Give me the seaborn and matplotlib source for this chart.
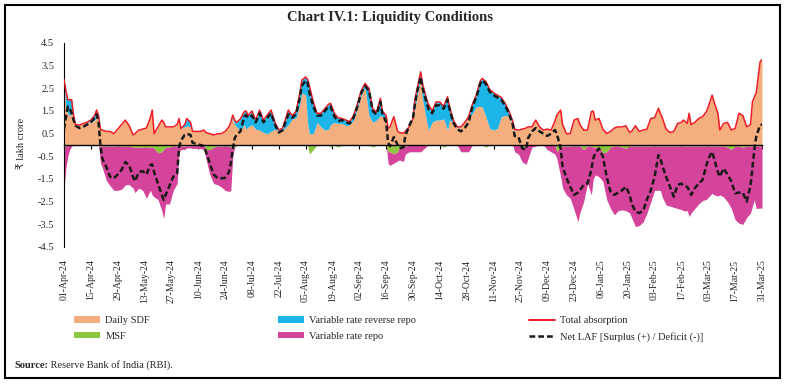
import numpy as np
import pandas as pd
import matplotlib
matplotlib.use("Agg")
import matplotlib.pyplot as plt
import seaborn as sns
from matplotlib.patches import Rectangle, Patch
from matplotlib.lines import Line2D

# ---------------- data (₹ lakh crore), day = days since 01-Apr-2024 ----------------
day = [0, 1, 2, 3, 4, 5, 6, 8, 10, 12,
       14, 16, 17, 18, 19, 20, 22, 24, 26, 28,
       30, 32, 34, 36, 37, 39, 41, 43, 45, 46,
       47, 49, 51, 52, 53, 55, 57, 59, 60, 61,
       63, 64, 66, 67, 69, 71, 73, 74, 76, 78,
       80, 82, 84, 86, 87, 88, 89, 90, 92, 94,
       95, 96, 98, 100, 102, 104, 106, 108, 110, 112,
       114, 117, 119, 121, 123, 124, 126, 127, 128, 130,
       132, 134, 136, 138, 139, 141, 143, 145, 147, 149,
       151, 153, 155, 157, 159, 161, 163, 165, 166, 168,
       169, 170, 172, 174, 175, 177, 178, 180, 182, 183,
       184, 186, 187, 189, 190, 192, 194, 196, 198, 200,
       201, 203, 205, 207, 209, 211, 213, 215, 217, 218,
       220, 222, 224, 226, 228, 230, 232, 234, 235, 237,
       239, 241, 242, 244, 246, 248, 250, 252, 254, 256,
       257, 259, 260, 262, 264, 266, 268, 269, 271, 273,
       275, 276, 277, 279, 281, 283, 285, 287, 289, 291,
       293, 295, 296, 298, 300, 302, 304, 306, 308, 310,
       311, 312, 314, 316, 318, 320, 322, 323, 325, 326,
       327, 329, 331, 333, 335, 336, 338, 339, 341, 342,
       344, 346, 348, 350, 352, 354, 356, 358, 359, 360,
       361, 363, 364]

daily_sdf = [2.90, 1.60, 1.40, 1.30, 1.40, 1.20, 0.90, 0.88, 0.95, 1.00,
             1.00, 1.10, 1.25, 1.10, 0.70, 0.66, 0.60, 0.60, 0.50, 0.70,
             0.90, 1.10, 0.85, 0.45, 0.50, 0.66, 0.70, 0.75, 1.20, 1.54,
             0.50, 0.80, 1.10, 1.00, 0.80, 0.80, 0.80, 0.90, 1.17, 0.73,
             0.80, 0.85, 0.80, 0.60, 0.60, 0.60, 0.66, 0.55, 0.50, 0.44,
             0.50, 0.50, 0.60, 0.80, 1.00, 1.20, 0.90, 0.80, 0.65, 0.90,
             0.70, 0.80, 0.90, 0.70, 0.66, 0.55, 0.50, 0.60, 0.70, 0.60,
             0.65, 0.90, 1.15, 1.20, 1.80, 2.30, 2.20, 1.00, 0.50, 0.50,
             1.00, 0.80, 0.66, 0.70, 0.90, 1.00, 0.95, 0.95, 0.85, 0.90,
             1.10, 1.60, 2.20, 2.55, 1.30, 1.00, 1.10, 1.30, 1.25, 1.25,
             0.73, 0.80, 1.25, 0.60, 0.55, 0.52, 0.60, 0.80, 1.17, 1.60,
             2.10, 3.00, 2.00, 1.10, 0.66, 1.00, 1.10, 1.10, 1.15, 0.66,
             1.10, 1.00, 0.75, 0.80, 1.00, 1.20, 1.40, 1.69, 1.70, 1.70,
             1.25, 0.73, 0.66, 0.73, 1.25, 1.30, 1.30, 0.90, 0.66, 0.66,
             0.70, 0.75, 0.80, 0.80, 1.10, 0.80, 0.66, 0.70, 0.66, 1.05,
             1.32, 1.54, 0.90, 0.50, 0.50, 1.10, 1.17, 0.90, 0.66, 0.66,
             1.47, 1.50, 1.10, 1.17, 0.70, 0.51, 0.60, 0.75, 0.80, 0.80,
             0.85, 0.55, 0.60, 0.85, 0.60, 0.66, 0.70, 1.17, 1.20, 1.62,
             1.40, 1.20, 0.70, 0.55, 0.60, 0.95, 1.00, 1.10, 0.95, 1.40,
             0.90, 1.00, 1.17, 1.25, 1.47, 1.69, 2.20, 1.90, 1.40, 0.66,
             0.95, 1.00, 0.66, 0.73, 1.40, 1.30, 0.80, 0.90, 1.90, 2.10,
             2.30, 3.67, 3.77]

vrrr = [0.00, 0.80, 0.60, 0.70, 0.60, 0.10, 0.00, 0.00, 0.00, 0.00,
        0.10, 0.20, 0.30, 0.20, 0.00, 0.00, 0.00, 0.00, 0.00, 0.00,
        0.00, 0.00, 0.00, 0.00, 0.00, 0.00, 0.00, 0.00, 0.00, 0.00,
        0.00, 0.00, 0.00, 0.00, 0.00, 0.00, 0.00, 0.00, 0.00, 0.00,
        0.10, 0.32, 0.20, 0.00, 0.00, 0.00, 0.00, 0.00, 0.00, 0.00,
        0.00, 0.00, 0.00, 0.00, 0.00, 0.12, 0.20, 0.20, 0.50, 0.57,
        0.80, 0.50, 0.60, 0.40, 0.88, 0.55, 0.82, 0.94, 0.30, 0.06,
        0.10, 0.64, 0.15, 0.27, 0.50, 0.56, 0.80, 1.90, 2.10, 1.40,
        0.40, 0.60, 0.94, 1.10, 0.94, 0.40, 0.25, 0.22, 0.25, 0.13,
        0.20, 0.20, 0.20, 0.17, 1.20, 0.60, 0.35, 0.76, 0.25, 0.05,
        0.00, 0.00, 0.00, 0.00, 0.00, 0.00, 0.00, 0.00, 0.00, 0.40,
        0.32, 0.23, 0.70, 0.96, 1.14, 0.50, 0.80, 0.80, 0.55, 1.47,
        0.60, 0.10, 0.05, 0.00, 0.00, 0.05, 0.40, 0.51, 1.10, 1.24,
        1.55, 1.72, 1.64, 1.47, 0.85, 0.54, 0.20, 0.15, 0.04, 0.00,
        0.00, 0.00, 0.00, 0.00, 0.00, 0.00, 0.00, 0.00, 0.00, 0.00,
        0.00, 0.00, 0.00, 0.00, 0.00, 0.00, 0.00, 0.00, 0.00, 0.00,
        0.00, 0.00, 0.00, 0.00, 0.00, 0.00, 0.00, 0.00, 0.00, 0.00,
        0.00, 0.00, 0.00, 0.00, 0.00, 0.00, 0.00, 0.00, 0.00, 0.00,
        0.00, 0.00, 0.00, 0.00, 0.00, 0.00, 0.00, 0.00, 0.00, 0.00,
        0.00, 0.00, 0.00, 0.00, 0.00, 0.00, 0.00, 0.00, 0.00, 0.00,
        0.00, 0.00, 0.00, 0.00, 0.00, 0.00, 0.00, 0.00, 0.00, 0.00,
        0.00, 0.00, 0.00]

msf = [0.10, 0.05, 0.00, 0.00, 0.00, 0.00, 0.00, 0.00, 0.00, 0.00,
       0.00, 0.00, 0.00, 0.00, 0.05, 0.05, 0.05, 0.05, 0.05, 0.05,
       0.05, 0.06, 0.05, 0.10, 0.10, 0.10, 0.10, 0.10, 0.10, 0.10,
       0.15, 0.35, 0.30, 0.20, 0.10, 0.10, 0.05, 0.05, 0.05, 0.05,
       0.05, 0.03, 0.03, 0.03, 0.03, 0.03, 0.03, 0.20, 0.20, 0.10,
       0.05, 0.05, 0.05, 0.05, 0.10, 0.20, 0.05, 0.02, 0.02, 0.02,
       0.00, 0.00, 0.00, 0.00, 0.00, 0.00, 0.00, 0.00, 0.00, 0.00,
       0.00, 0.00, 0.00, 0.00, 0.00, 0.00, 0.00, 0.00, 0.40, 0.20,
       0.00, 0.00, 0.00, 0.00, 0.10, 0.00, 0.10, 0.00, 0.00, 0.00,
       0.00, 0.00, 0.00, 0.00, 0.00, 0.10, 0.00, 0.00, 0.00, 0.00,
       0.30, 0.30, 0.40, 0.30, 0.10, 0.05, 0.05, 0.02, 0.02, 0.02,
       0.02, 0.02, 0.02, 0.02, 0.00, 0.00, 0.00, 0.00, 0.10, 0.00,
       0.00, 0.00, 0.00, 0.00, 0.00, 0.00, 0.00, 0.00, 0.00, 0.00,
       0.10, 0.00, 0.00, 0.00, 0.00, 0.00, 0.00, 0.00, 0.00, 0.00,
       0.10, 0.05, 0.00, 0.00, 0.00, 0.00, 0.00, 0.00, 0.00, 0.00,
       0.30, 0.10, 0.05, 0.05, 0.05, 0.05, 0.05, 0.05, 0.20, 0.05,
       0.05, 0.10, 0.10, 0.10, 0.35, 0.30, 0.10, 0.05, 0.05, 0.10,
       0.15, 0.05, 0.05, 0.05, 0.05, 0.05, 0.05, 0.05, 0.05, 0.05,
       0.05, 0.05, 0.05, 0.05, 0.05, 0.05, 0.05, 0.05, 0.05, 0.05,
       0.05, 0.05, 0.05, 0.05, 0.05, 0.05, 0.05, 0.05, 0.05, 0.05,
       0.05, 0.10, 0.20, 0.05, 0.05, 0.10, 0.05, 0.05, 0.05, 0.05,
       0.05, 0.05, 0.05]

vrr = [1.90, 0.95, 0.50, 0.20, 0.05, 0.00, 0.00, 0.00, 0.00, 0.00,
       0.00, 0.00, 0.00, 0.00, 0.75, 0.95, 1.50, 1.75, 1.95, 1.95,
       1.90, 1.70, 1.70, 1.80, 2.00, 1.80, 1.90, 2.25, 1.90, 2.10,
       2.15, 2.05, 2.60, 3.05, 2.50, 2.50, 1.95, 1.65, 0.25, 0.15,
       0.15, 0.10, 0.10, 0.12, 0.12, 0.12, 0.17, 0.40, 1.10, 1.60,
       1.70, 1.80, 1.95, 2.00, 1.90, 0.30, 0.05, 0.00, 0.00, 0.00,
       0.00, 0.00, 0.00, 0.00, 0.00, 0.00, 0.00, 0.00, 0.00, 0.00,
       0.00, 0.00, 0.00, 0.00, 0.00, 0.00, 0.00, 0.00, 0.00, 0.00,
       0.00, 0.00, 0.00, 0.00, 0.00, 0.00, 0.00, 0.00, 0.00, 0.00,
       0.00, 0.00, 0.00, 0.00, 0.00, 0.00, 0.00, 0.00, 0.00, 0.00,
       0.50, 0.60, 0.40, 0.40, 0.56, 0.68, 0.35, 0.28, 0.28, 0.28,
       0.28, 0.28, 0.20, 0.05, 0.00, 0.00, 0.00, 0.00, 0.00, 0.00,
       0.00, 0.00, 0.00, 0.30, 0.30, 0.30, 0.00, 0.00, 0.00, 0.00,
       0.00, 0.00, 0.00, 0.00, 0.00, 0.00, 0.00, 0.00, 0.30, 0.40,
       0.65, 0.80, 0.60, 0.10, 0.05, 0.00, 0.00, 0.20, 0.30, 0.40,
       0.30, 1.30, 1.85, 2.15, 2.30, 2.80, 3.33, 2.95, 2.30, 1.65,
       2.15, 1.40, 1.22, 1.30, 1.25, 2.10, 2.70, 3.03, 2.85, 2.76,
       2.75, 2.95, 3.15, 3.55, 3.50, 3.35, 2.95, 2.45, 1.95, 1.95,
       1.95, 2.25, 2.60, 2.65, 2.70, 2.75, 2.80, 2.85, 2.85, 3.10,
       2.95, 2.75, 2.55, 2.40, 2.35, 2.25, 2.08, 2.15, 2.20, 2.15,
       2.25, 2.40, 2.60, 3.25, 3.40, 3.40, 3.15, 2.95, 2.65, 2.37,
       2.75, 2.73, 2.73]

net_laf = [0.70, 1.20, 1.70, 1.60, 1.40, 1.10, 0.85, 0.75, 0.80, 0.90,
           1.00, 1.20, 1.35, 1.00, 0.00, -0.60, -0.95, -1.40, -1.47, -1.30,
           -1.10, -0.75, -0.90, -1.40, -1.60, -1.20, -1.15, -1.30, -0.88, -0.85,
           -1.20, -1.70, -2.20, -2.42, -2.20, -1.80, -1.40, -1.25, -0.10, 0.20,
           0.45, 0.50, 0.44, 0.10, 0.05, 0.00, -0.05, -0.30, -0.80, -1.30,
           -1.45, -1.47, -1.45, -1.20, -0.80, -0.20, 0.30, 0.45, 0.60, 1.25,
           1.32, 1.20, 1.30, 1.00, 1.40, 1.00, 1.20, 1.40, 0.90, 0.55,
           0.65, 1.35, 1.20, 1.35, 2.10, 2.60, 2.85, 2.75, 2.30, 1.70,
           1.30, 1.30, 1.50, 1.70, 1.70, 1.25, 1.05, 1.10, 1.00, 0.95,
           1.20, 1.70, 2.30, 2.60, 2.40, 1.50, 1.35, 1.90, 1.40, 1.00,
           0.10, -0.05, 0.35, 0.00, -0.15, -0.10, 0.40, 0.85, 1.20, 1.80,
           2.30, 3.00, 2.50, 1.90, 1.60, 1.40, 1.75, 1.75, 1.60, 2.00,
           1.60, 1.00, 0.70, 0.60, 0.75, 1.00, 1.70, 2.10, 2.70, 2.85,
           2.70, 2.35, 2.20, 2.10, 2.00, 1.75, 1.40, 0.90, 0.40, 0.35,
           -0.15, -0.20, 0.30, 0.60, 0.75, 0.60, 0.50, 0.40, 0.50, 0.66,
           0.50, -0.15, -0.95, -1.45, -1.84, -2.20, -2.10, -2.00, -1.76, -1.70,
           -1.10, -0.60, -0.37, -0.15, -0.50, -1.40, -2.06, -2.20, -2.10, -2.00,
           -1.84, -2.20, -2.57, -2.94, -3.00, -2.90, -2.40, -2.00, -1.40, -0.44,
           -0.60, -0.90, -1.40, -1.84, -2.28, -1.76, -1.70, -1.80, -1.84, -2.00,
           -2.20, -1.90, -1.70, -1.54, -0.90, -0.60, -0.30, -0.59, -1.20, -1.40,
           -1.03, -1.30, -1.60, -2.13, -2.10, -2.10, -2.50, -1.80, -1.00, -0.22,
           0.37, 0.88, 0.90]

y_ticks = [-4.5, -3.5, -2.5, -1.5, -0.5, 0.5, 1.5, 2.5, 3.5, 4.5]
series_labels = ["Daily SDF", "MSF", "Variable rate reverse repo",
                 "Variable rate repo", "Total absorption",
                 "Net LAF [Surplus (+) / Deficit (-)]"]

# ---------------- styling ----------------
C_SDF = "#F5AF7F"
C_VRRR = "#1DB4E7"
C_MSF = "#8DC63F"
C_VRR = "#D3449A"
C_RED = "#EE1C25"
C_NET = "#1A1A1A"

sns.set_style("white")
plt.rcParams["font.family"] = ["Liberation Serif", "DejaVu Sans"]
plt.rcParams["axes.unicode_minus"] = False

start = pd.Timestamp("2024-04-01")
dates = start + pd.to_timedelta(day, unit="D")
sdf_a = np.array(daily_sdf)
vrrr_a = np.array(vrrr)
msf_a = np.array(msf)
vrr_a = np.array(vrr)
total = sdf_a + vrrr_a

W, H = 785, 384
fig = plt.figure(figsize=(W / 100, H / 100), dpi=100)
fig.patch.set_facecolor("white")
ax = fig.add_axes([64 / W, 1 - 247 / H, (762 - 64) / W, (247 - 43) / H])
ax.set_facecolor("none")

ax.fill_between(dates, 0, sdf_a, color=C_SDF, lw=0, zorder=1)
ax.fill_between(dates, sdf_a, total, color=C_VRRR, lw=0, zorder=1)
ax.fill_between(dates, 0, -msf_a, color=C_MSF, lw=0, zorder=1)
ax.fill_between(dates, -msf_a, -(msf_a + vrr_a), color=C_VRR, lw=0, zorder=1)
sns.lineplot(x=dates, y=total, ax=ax, color=C_RED, lw=1.1, zorder=3)
sns.lineplot(x=dates, y=np.array(net_laf), ax=ax, color=C_NET, lw=1.8,
             ls=(0, (2.3, 1.2)), zorder=4)

end = start + pd.Timedelta(days=364)
ax.set_xlim(start, end)
ax.set_ylim(-4.5, 4.5)
ax.set_xlabel("")
ax.set_ylabel("")

tick_dates = pd.date_range(start, end, freq="14D")
ax.set_xticks(tick_dates, labels=[d.strftime("%d-%b-%y") for d in tick_dates])
ax.set_yticks(y_ticks, labels=[f"{v:.1f}" for v in y_ticks])

# zero line with ticks (top spine moved to y=0), labels at bottom
for s in ["right", "bottom"]:
    ax.spines[s].set_visible(False)
ax.spines["top"].set_position(("data", 0))
ax.spines["top"].set_color("black")
ax.spines["top"].set_linewidth(1.0)
ax.spines["top"].set_zorder(5)
ax.spines["left"].set_color("black")
ax.spines["left"].set_linewidth(0.8)
ax.tick_params(axis="x", bottom=False, top=True, labelbottom=True,
               labeltop=False, direction="in", length=3, width=0.8,
               color="black", pad=9, labelrotation=90, labelsize=7)
ax.tick_params(axis="y", direction="out", length=3, width=0.8,
               color="black", pad=4, labelsize=7.5)

# y label
fig.text(22 / W, 1 - 143 / H, "₹ lakh crore", rotation=90, ha="center",
         va="center", fontsize=7.5)

# title
fig.text(0.497, 1 - 17 / H, "Chart IV.1: Liquidity Conditions",
         ha="center", va="center", fontsize=10.5, fontweight="bold")

# legends (three columns)
h_sdf = Patch(facecolor=C_SDF, edgecolor="none")
h_msf = Patch(facecolor=C_MSF, edgecolor="none")
h_vrrr = Patch(facecolor=C_VRRR, edgecolor="none")
h_vrr = Patch(facecolor=C_VRR, edgecolor="none")
h_tot = Line2D([], [], color=C_RED, lw=1.4)
h_net = Line2D([], [], color=C_NET, lw=1.8, ls=(0, (2.3, 1.2)))
cols = [([h_sdf, h_msf], series_labels[0:2], 74),
        ([h_vrrr, h_vrr], series_labels[2:4], 278),
        ([h_tot, h_net], series_labels[4:6], 529)]
for hs, ls_, xpx in cols:
    fig.legend(hs, ls_, loc="upper left", bbox_to_anchor=(xpx / W, 1 - 316 / H),
               frameon=False, borderpad=0, borderaxespad=0, fontsize=7.5,
               handlelength=2.5, handleheight=0.6, handletextpad=0.5,
               labelspacing=0.65)

# source
t1 = fig.text(14 / W, 1 - 365 / H, "Source:", fontsize=7.5, fontweight="bold",
              va="center", ha="left")
ax.annotate(" Reserve Bank of India (RBI).", xy=(1, 0), xycoords=t1,
            va="bottom", ha="left", fontsize=7.5, annotation_clip=False)

# outer frame
fig.patches.append(Rectangle((5 / W, 1 - 378 / H), (780 - 5) / W, (378 - 5) / H,
                             transform=fig.transFigure, fill=False,
                             edgecolor="black", lw=1.5))

fig.savefig("out.png", dpi=100, facecolor="white")
